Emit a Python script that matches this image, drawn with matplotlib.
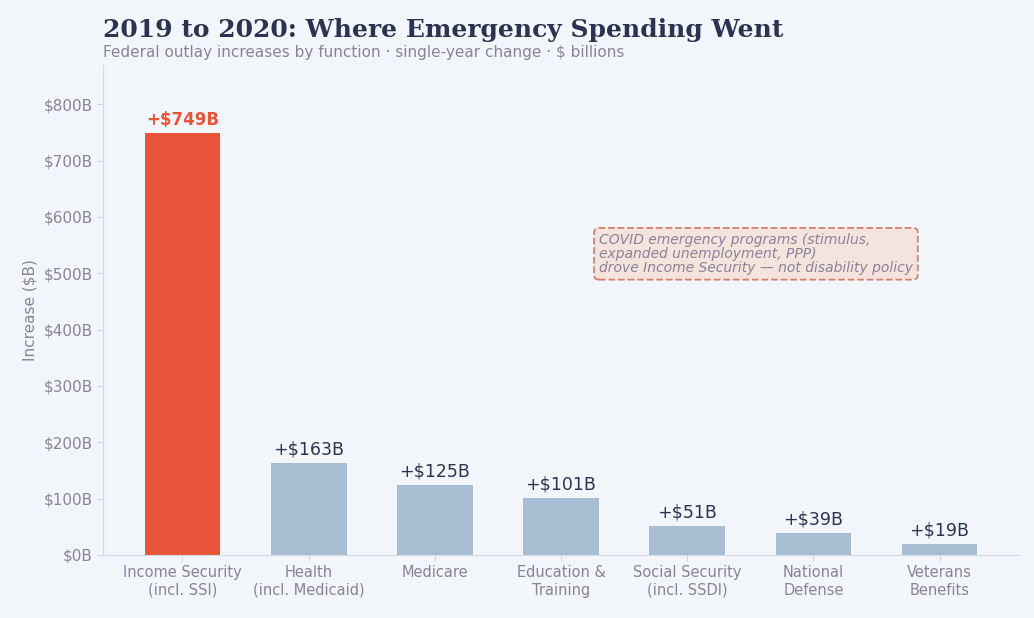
import matplotlib.pyplot as plt

categories = ["Income Security\n(incl. SSI)", "Health\n(incl. Medicaid)", "Medicare",
              "Education &\nTraining", "Social Security\n(incl. SSDI)", "National\nDefense",
              "Veterans\nBenefits"]
increases = [749, 163, 125, 101, 51, 39, 19]
yticks = [0, 100, 200, 300, 400, 500, 600, 700, 800]

BG = "#f2f5fa"
GREY = "#8a8299"
NAVY = "#2b3350"
RED = "#e8553a"
BLUE = "#a8bcd2"

fig = plt.figure(figsize=(10.34, 6.18), dpi=100, facecolor=BG)
ax = fig.add_axes([0.0996, 0.102, 0.886, 0.793], facecolor=BG)

colors = [RED] + [BLUE] * (len(increases) - 1)
x = range(len(increases))
ax.bar(x, increases, width=0.6, color=colors)
for i, v in enumerate(increases):
    ax.text(i, v + 8, f"+${v}B", ha="center", va="bottom",
            fontsize=12.5 if i else 12, color=RED if i == 0 else NAVY,
            fontweight="bold" if i == 0 else "normal")

ax.set_xlim(-0.63, 6.63)
ax.set_ylim(0, 870)
ax.set_yticks(yticks)
ax.set_yticklabels([f"${t}B" for t in yticks], color=GREY, fontsize=11)
ax.set_xticks(list(x))
ax.set_xticklabels(categories, color=GREY, fontsize=10.5)
ax.tick_params(axis="both", colors="#cfd5de", labelcolor=GREY, length=4)
ax.set_ylabel("Increase ($B)", color=GREY, fontsize=11)
for s in ["top", "right"]:
    ax.spines[s].set_visible(False)
for s in ["left", "bottom"]:
    ax.spines[s].set_color("#d5dae2")

ax.text(3.3, 572, "COVID emergency programs (stimulus,\nexpanded unemployment, PPP)\n"
        "drove Income Security \u2014 not disability policy",
        ha="left", va="top", fontsize=10, style="italic", color=GREY, linespacing=1.0,
        bbox=dict(boxstyle="round,pad=0.35", fc="#f5e4de", ec="#d4806d", ls="--", lw=1.3))

fig.text(0.0996, 0.94, "2019 to 2020: Where Emergency Spending Went", fontsize=18,
         fontweight="bold", family="DejaVu Serif", color=NAVY)
fig.text(0.0996, 0.907, "Federal outlay increases by function \u00b7 single-year change \u00b7 $ billions",
         fontsize=11, color=GREY)

fig.savefig("out.png", dpi=100, facecolor=BG)
